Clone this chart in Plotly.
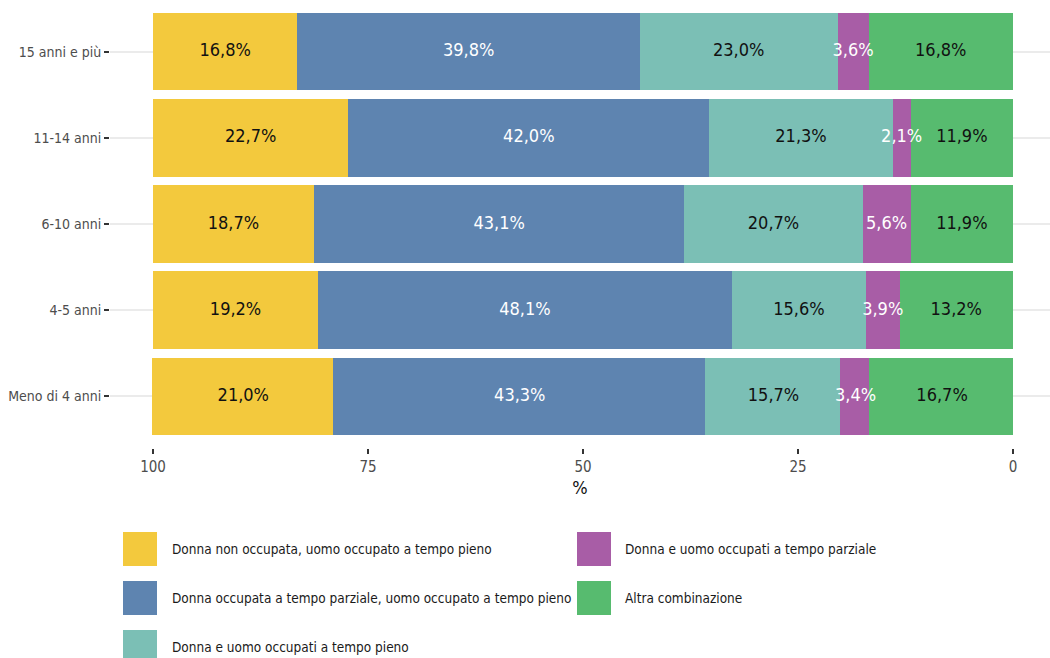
import plotly.graph_objects as go

categories = ["Meno di 4 anni", "4-5 anni", "6-10 anni", "11-14 anni", "15 anni e più"]

series_names = [
    "Donna non occupata, uomo occupato a tempo pieno",
    "Donna occupata a tempo parziale, uomo occupato a tempo pieno",
    "Donna e uomo occupati a tempo pieno",
    "Donna e uomo occupati a tempo parziale",
    "Altra combinazione",
]
colors = ["#F3C93D", "#5E84B0", "#7BBFB5", "#A85DA6", "#57BB6F"]
text_colors = ["#111111", "#FFFFFF", "#111111", "#FFFFFF", "#111111"]

# values per category (same order as categories)
v_non_occ = [21.0, 19.2, 18.7, 22.7, 16.8]
v_parz_pieno = [43.3, 48.1, 43.1, 42.0, 39.8]
v_pieno_pieno = [15.7, 15.6, 20.7, 21.3, 23.0]
v_parz_parz = [3.4, 3.9, 5.6, 2.1, 3.6]
v_altra = [16.7, 13.2, 11.9, 11.9, 16.8]
series_values = [v_non_occ, v_parz_pieno, v_pieno_pieno, v_parz_parz, v_altra]

x_ticks = [100, 75, 50, 25, 0]

FONT = "Liberation Sans Narrow, DejaVu Sans Condensed, Roboto Condensed, Arial Narrow, sans-serif"

W, H = 1050, 658
ML, MR, MT, MB = 110, 0, 0, 210
PW, PH = W - ML - MR, H - MT - MB

fig = go.Figure()
# stack from the right (0) towards the left (100): last series first
for i in reversed(range(len(series_names))):
    fig.add_trace(go.Bar(
        y=categories, x=series_values[i], orientation="h", name=series_names[i],
        marker=dict(color=colors[i], line=dict(width=0)),
        width=0.9, showlegend=False, hoverinfo="skip",
    ))

# labels on top of all bars, centred in each segment (segments run from 100 leftwards)
n_cat = len(categories)
for i in range(len(series_names)):
    mids, texts = [], []
    for j in range(n_cat):
        start = 100 - sum(series_values[k][j] for k in range(i))
        mids.append(start - series_values[i][j] / 2)
        texts.append(f"{series_values[i][j]:.1f}%".replace(".", ","))
    fig.add_trace(go.Scatter(
        x=mids, y=categories, mode="text", text=texts,
        textposition="middle center",
        textfont=dict(color=text_colors[i], size=18, family=FONT),
        showlegend=False, hoverinfo="skip", cliponaxis=False,
    ))

def px_x(px):
    return (px - ML) / PW

def px_y(py):
    return (MT + PH - py) / PH

shapes, annotations = [], []
legend_pos = [(0, 0), (0, 1), (0, 2), (1, 0), (1, 1)]  # (column, row)
col_swatch_x = [123, 577]
col_text_x = [170, 623]
row_center_y = [549, 598, 647]
sw = 34
for i, (c, r) in enumerate(legend_pos):
    cy = row_center_y[r]
    shapes.append(dict(type="rect", xref="paper", yref="paper",
                       x0=px_x(col_swatch_x[c]), x1=px_x(col_swatch_x[c] + sw),
                       y0=px_y(cy + sw / 2), y1=px_y(cy - sw / 2),
                       fillcolor=colors[i], line=dict(width=0), layer="above"))
    annotations.append(dict(xref="paper", yref="paper", x=px_x(col_text_x[c]), y=px_y(cy),
                            text=series_names[i], showarrow=False, xanchor="left", yanchor="middle",
                            font=dict(size=13.5, color="#1A1A1A", family=FONT)))

fig.update_layout(
    width=W, height=H,
    margin=dict(l=ML, r=MR, t=MT, b=MB),
    barmode="stack",
    bargap=0.1,
    separators=", ",
    plot_bgcolor="white", paper_bgcolor="white",
    font=dict(family=FONT, color="#4D4D4D", size=14),
    xaxis=dict(range=[105, -4.3], tickvals=x_ticks, ticktext=[str(t) for t in x_ticks],
               showgrid=False, zeroline=False, showline=False, automargin=False,
               ticks="outside", ticklen=5, tickwidth=2, tickcolor="#333333",
               tickfont=dict(size=15, color="#4D4D4D", family=FONT),
               title=dict(text="%", font=dict(size=18, color="#111111", family=FONT), standoff=6)),
    yaxis=dict(categoryorder="array", categoryarray=categories, range=[-0.6, 4.6],
               showgrid=True, gridcolor="#EBEBEB", gridwidth=1.5, zeroline=False, showline=False,
               automargin=False,
               ticks="outside", ticklen=5, tickwidth=2, tickcolor="#333333",
               tickfont=dict(size=14, color="#4D4D4D", family=FONT)),
    shapes=shapes,
    annotations=annotations,
)

fig.write_html("out.html", config={"displayModeBar": False},
               post_script="document.body.style.margin='0';document.body.style.overflow='hidden';")
